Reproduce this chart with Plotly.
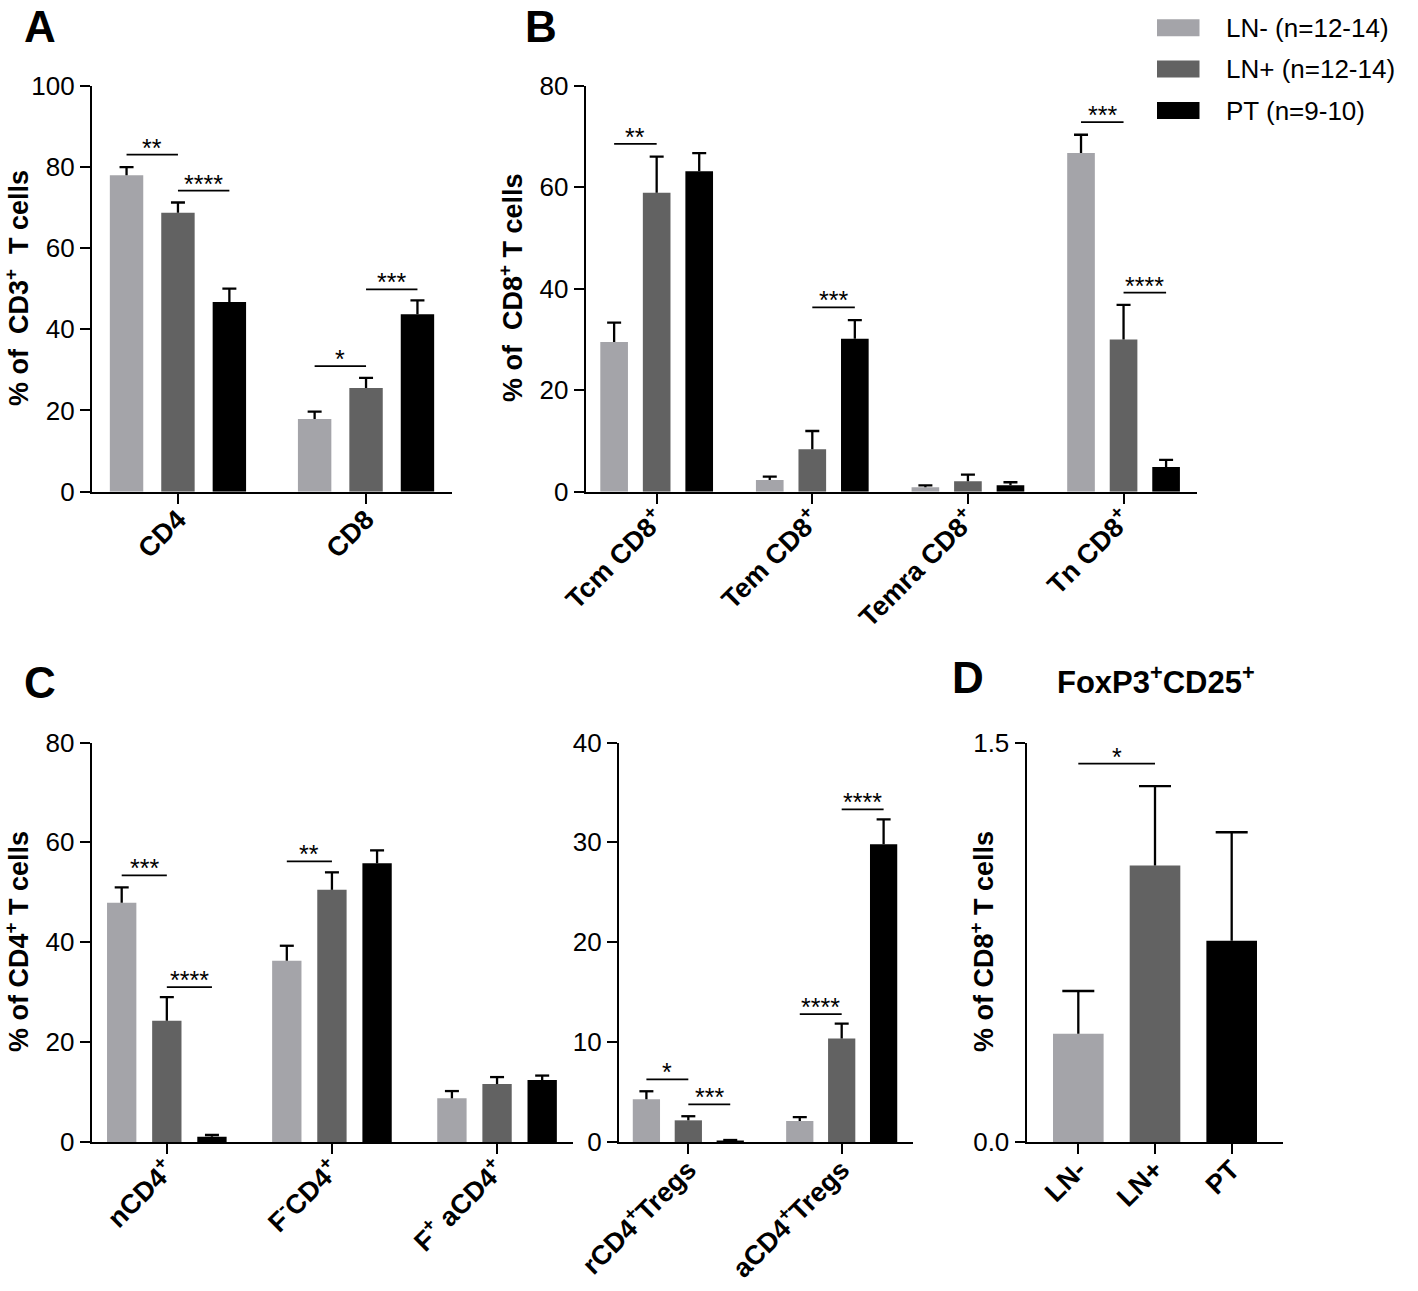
'''
T cell subsets in LN-, LN+ and PT: grouped bar panels A-D
'''
import plotly.graph_objects as go

W, H = 1418, 1291
FONT = "Liberation Sans, Arial, sans-serif"
GROUPS = ["LN-", "LN+", "PT"]
COLORS = ["#a4a4a9", "#626262", "#000000"]
LEGEND_TEXT = ["LN- (n=12-14)", "LN+ (n=12-14)", "PT (n=9-10)"]

# ---- panel A: % of CD3+ T cells
a_cats = ["CD4", "CD8"]
a_lnneg = [77.9, 17.9]
a_lnpos = [68.7, 25.5]
a_pt = [46.7, 43.7]
a_sem_lnneg = [2.0, 1.8]
a_sem_lnpos = [2.5, 2.5]
a_sem_pt = [3.3, 3.4]
a_sig = [(0, 0, 1, 83.0, "**"), (0, 1, 2, 74.1, "****"),
         (1, 0, 1, 30.9, "*"), (1, 1, 2, 49.8, "***")]

# ---- panel B: % of CD8+ T cells
b_cats = ["Tcm CD8<sup>+</sup>", "Tem CD8<sup>+</sup>",
          "Temra CD8<sup>+</sup>", "Tn CD8<sup>+</sup>"]
b_lnneg = [29.5, 2.3, 0.86, 66.7]
b_lnpos = [58.9, 8.35, 2.05, 30.0]
b_pt = [63.1, 30.1, 1.26, 4.87]
b_sem_lnneg = [3.8, 0.65, 0.4, 3.6]
b_sem_lnpos = [7.1, 3.6, 1.3, 6.8]
b_sem_pt = [3.6, 3.7, 0.6, 1.4]
b_sig = [(0, 0, 1, 68.5, "**"), (1, 1, 2, 36.3, "***"),
         (3, 0, 1, 72.8, "***"), (3, 1, 2, 39.2, "****")]

# ---- panel C (left): % of CD4+ T cells
c1_cats = ["nCD4<sup>+</sup>", "F<sup>-</sup>CD4<sup>+</sup>",
           "F<sup>+</sup> aCD4<sup>+</sup>"]
c1_lnneg = [47.9, 36.3, 8.75]
c1_lnpos = [24.3, 50.5, 11.6]
c1_pt = [1.07, 55.8, 12.4]
c1_sem_lnneg = [3.1, 3.0, 1.45]
c1_sem_lnpos = [4.7, 3.5, 1.4]
c1_sem_pt = [0.33, 2.6, 0.9]
c1_sig = [(0, 0, 1, 53.4, "***"), (0, 1, 2, 31.0, "****"),
          (1, 0, 1, 56.2, "**")]

# ---- panel C (right): Tregs
c2_cats = ["rCD4<sup>+</sup>Tregs", "aCD4<sup>+</sup>Tregs"]
c2_lnneg = [4.28, 2.1]
c2_lnpos = [2.17, 10.36]
c2_pt = [0.13, 29.8]
c2_sem_lnneg = [0.8, 0.4]
c2_sem_lnpos = [0.41, 1.5]
c2_sem_pt = [0.07, 2.5]
c2_sig = [(0, 0, 1, 6.28, "*"), (0, 1, 2, 3.77, "***"),
          (1, 0, 1, 12.8, "****"), (1, 1, 2, 33.3, "****")]

# ---- panel D: FoxP3+CD25+ % of CD8+ T cells
d_cats = ["LN-", "LN+", "PT"]
d_vals = [0.406, 1.038, 0.756]
d_sem = [0.161, 0.298, 0.407]
d_sig = [(0, 1, 1.421, "*")]

BARGAP = 0.18
BARGROUPGAP = 0.35
SLOT = (1 - BARGAP) / 3
D_WIDTH = 0.66
LW = 2.3


def px_x(p):
    return p / W


def px_y(p):
    return 1 - p / H


# axis placement (pixel edges of each plot area) and ranges
top_y = [px_y(491.7), px_y(85.5)]
bot_y = [px_y(1142), px_y(742.5)]
AXES = {
    "": ((92, 452), top_y, [-0.457, 1.457], [0, 100], 20, None, a_cats),
    "2": ((585.7, 1196.7), top_y, [-0.456, 3.47], [0, 80], 20, None, b_cats),
    "3": ((91.7, 573), bot_y, [-0.455, 2.46], [0, 80], 20, None, c1_cats),
    "4": ((619, 912.7), bot_y, [-0.452, 1.463], [0, 40], 10, None, c2_cats),
    "5": ((1026.7, 1283.3), bot_y, [-0.673, 2.673], [0, 1.5], 1.5, ".1f", d_cats),
}


def cap_half(k, cap_px):
    """half width of an error bar cap in x data units for axis k"""
    (p0, p1), _, xr, *_ = AXES[k]
    return cap_px * (xr[1] - xr[0]) / (p1 - p0)


def error_trace(xs, vals, sems, xa, ya, half):
    """stems and hats of the upward error bars as one line trace"""
    ex, ey = [], []
    for x, v, s in zip(xs, vals, sems):
        ex += [x, x, None, x - half, x + half, None]
        ey += [v, v + s, None, v + s, v + s, None]
    return go.Scatter(x=ex, y=ey, mode="lines", xaxis=xa, yaxis=ya,
                      line=dict(color="black", width=LW), showlegend=False,
                      hoverinfo="skip")


fig = go.Figure()
shapes = []
annotations = []


def add_sig(xa, ya, x0, x1, yv, stars):
    shapes.append(dict(type="line", xref=xa, yref=ya, x0=x0, x1=x1,
                       y0=yv, y1=yv, line=dict(color="black", width=1.8)))
    annotations.append(dict(xref=xa, yref=ya, x=(x0 + x1) / 2, y=yv,
                            text=stars, showarrow=False, yanchor="bottom",
                            yshift=-9, font=dict(size=25, color="black",
                                                 family=FONT)))


panels = [
    ("", [a_lnneg, a_lnpos, a_pt], [a_sem_lnneg, a_sem_lnpos, a_sem_pt], a_sig),
    ("2", [b_lnneg, b_lnpos, b_pt], [b_sem_lnneg, b_sem_lnpos, b_sem_pt], b_sig),
    ("3", [c1_lnneg, c1_lnpos, c1_pt],
     [c1_sem_lnneg, c1_sem_lnpos, c1_sem_pt], c1_sig),
    ("4", [c2_lnneg, c2_lnpos, c2_pt],
     [c2_sem_lnneg, c2_sem_lnpos, c2_sem_pt], c2_sig),
]

for k, series, sems, sig in panels:
    xa, ya = "x" + k, "y" + k
    pos = list(range(len(series[0])))
    half = cap_half(k, 7)
    for i, (vals, sem) in enumerate(zip(series, sems)):
        fig.add_trace(go.Bar(x=pos, y=vals, name=GROUPS[i],
                             marker=dict(color=COLORS[i], line_width=0),
                             xaxis=xa, yaxis=ya, showlegend=False))
    for i, (vals, sem) in enumerate(zip(series, sems)):
        xs = [p + (i - 1) * SLOT for p in pos]
        fig.add_trace(error_trace(xs, vals, sem, xa, ya, half))
    for c, i0, i1, yv, stars in sig:
        add_sig(xa, ya, c + (i0 - 1) * SLOT, c + (i1 - 1) * SLOT, yv, stars)

# panel D: one bar per group
d_pos = list(range(len(d_vals)))
fig.add_trace(go.Bar(x=d_pos, y=d_vals, width=D_WIDTH,
                     marker=dict(color=COLORS, line_width=0),
                     xaxis="x5", yaxis="y5", showlegend=False))
fig.add_trace(error_trace(d_pos, d_vals, d_sem, "x5", "y5", cap_half("5", 16)))
for i0, i1, yv, stars in d_sig:
    add_sig("x5", "y5", i0, i1, yv, stars)

layout_axes = {}
for k, ((p0, p1), yd, xr, yr, dt, fmt, cats) in AXES.items():
    layout_axes["xaxis" + k] = dict(
        domain=[px_x(p0), px_x(p1)], range=xr, anchor="y" + k, type="linear",
        tickmode="array", tickvals=list(range(len(cats))), ticktext=cats,
        showline=True, linecolor="black", linewidth=LW, ticks="outside",
        ticklen=10, tickwidth=LW, tickcolor="black", tickangle=-45,
        ticklabelstandoff=-11,
        showgrid=False, zeroline=False, automargin=False, fixedrange=True,
        tickfont=dict(size=27, color="black", family=FONT, weight="bold"))
    layout_axes["yaxis" + k] = dict(
        domain=yd, range=yr, anchor="x" + k, showline=True, linecolor="black",
        linewidth=LW, ticks="outside", ticklen=10, tickwidth=LW,
        tickcolor="black", dtick=dt, tick0=0, tickformat=fmt, showgrid=False,
        zeroline=False, automargin=False, fixedrange=True,
        tickfont=dict(size=26, color="black", family=FONT))

# y titles
NB = "\u00a0"
ytitles = [
    (17, 288, f"% of{NB}{NB}CD3<sup>+</sup>{NB}{NB}T cells"),
    (511, 288, f"% of{NB}{NB}CD8<sup>+</sup> T cells"),
    (17, 942, "% of CD4<sup>+</sup> T cells"),
    (982, 942, "% of CD8<sup>+</sup> T cells"),
]
for x, y, t in ytitles:
    annotations.append(dict(xref="paper", yref="paper", x=px_x(x), y=px_y(y),
                            text=t, textangle=-90, showarrow=False,
                            xanchor="center", yanchor="middle",
                            font=dict(size=27, color="black", family=FONT,
                                      weight="bold")))

# panel letters and D title
for x, y, t in [(40, 27, "A"), (541, 27, "B"), (40, 682, "C"), (968, 677, "D")]:
    annotations.append(dict(xref="paper", yref="paper", x=px_x(x), y=px_y(y),
                            text=t, showarrow=False, xanchor="center",
                            yanchor="middle",
                            font=dict(size=44, color="black", family=FONT,
                                      weight="bold")))
annotations.append(dict(xref="paper", yref="paper", x=px_x(1156), y=px_y(680),
                        text="FoxP3<sup>+</sup>CD25<sup>+</sup>",
                        showarrow=False, xanchor="center", yanchor="middle",
                        font=dict(size=31, color="black", family=FONT,
                                  weight="bold")))

# legend drawn by hand to get the wide swatches
for i, yc in enumerate([27.7, 69, 110.5]):
    shapes.append(dict(type="rect", xref="paper", yref="paper",
                       x0=px_x(1157), x1=px_x(1199.5),
                       y0=px_y(yc + 8.5), y1=px_y(yc - 8.5),
                       fillcolor=COLORS[i], line_width=0))
    annotations.append(dict(xref="paper", yref="paper", x=px_x(1224),
                            y=px_y(yc), text=LEGEND_TEXT[i], showarrow=False,
                            xanchor="left", yanchor="middle",
                            font=dict(size=26, color="black", family=FONT)))

fig.update_layout(
    template="none",
    width=W, height=H, autosize=False,
    margin=dict(l=0, r=0, t=0, b=0, pad=0),
    paper_bgcolor="white", plot_bgcolor="white",
    barmode="group", bargap=BARGAP, bargroupgap=BARGROUPGAP,
    shapes=shapes, annotations=annotations,
    font=dict(family=FONT, color="black"),
    **layout_axes,
)

# the page body has a default margin; drop it so the figure sits at 0,0
fig.write_html("out.html", config={"displayModeBar": False},
               post_script="document.body.style.margin='0';")
